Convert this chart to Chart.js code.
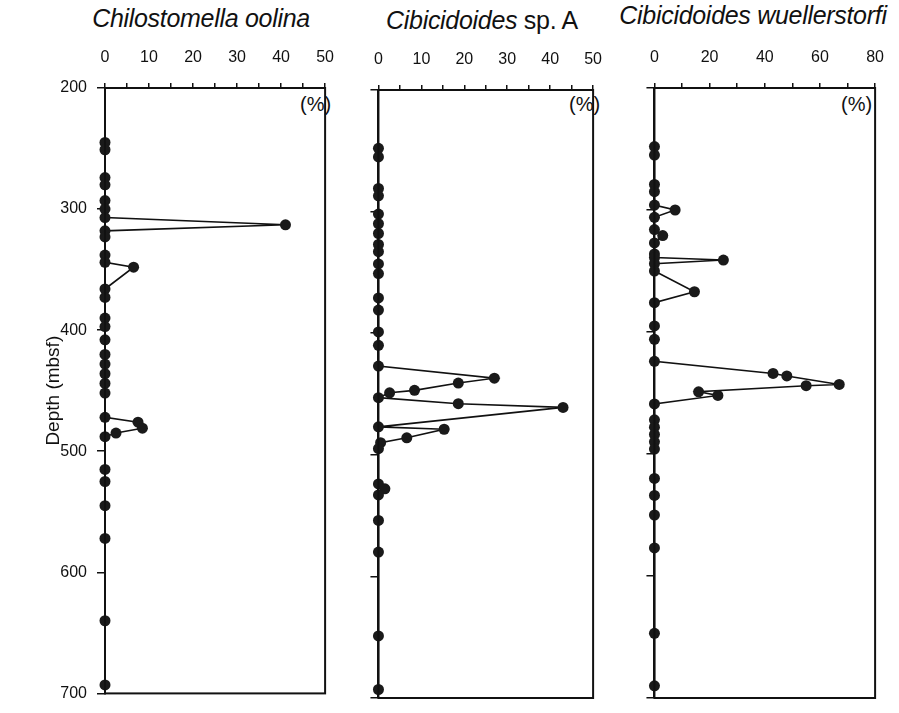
<!DOCTYPE html>
<html><head><meta charset="utf-8">
<script src="https://cdn.jsdelivr.net/npm/chart.js@4"></script>
<style>
body{margin:0;background:#fff;width:899px;height:713px;position:relative;overflow:hidden;font-family:"Liberation Sans",Arial,sans-serif;color:#111;}
canvas{position:absolute;top:0;}
.t{position:absolute;font-size:25px;white-space:nowrap;transform:translateX(-50%);letter-spacing:-0.3px;}
.p{position:absolute;font-size:20px;white-space:nowrap;}
</style></head><body>
<div class="t" style="left:201px;top:4px"><i>Chilostomella oolina</i></div>
<div class="t" style="left:482px;top:6px"><i>Cibicidoides</i> sp. A</div>
<div class="t" style="left:753px;top:1px"><i>Cibicidoides wuellerstorfi</i></div>
<div class="p" style="left:300px;top:93px">(%)</div>
<div class="p" style="left:569px;top:93px">(%)</div>
<div class="p" style="left:841px;top:93px">(%)</div>
<canvas id="c1" width="330" height="713" style="left:20px"></canvas>
<canvas id="c2" width="260" height="713" style="left:358px"></canvas>
<canvas id="c3" width="266" height="713" style="left:634px"></canvas>
<script>
// Depth ticks (mbsf)
const depthTicks = [200, 300, 400, 500, 600, 700];

// Chilostomella oolina
const depth1 = [245,251,274,280,293,300,307,313,318,323,338,344,348,366,373,390,397,408,420,428,436,444,452,472,476,481,485,488,515,525,545,572,640,693];
const pct1   = [0,  0,  0,  0,  0,  0,  0,  41, 0,  0,  0,  0,  6.5,0,  0,  0,  0,  0,  0,  0,  0,  0,  0,  0,  7.5,8.5,2.5,0,  0,  0,  0,  0,  0,  0];

// Cibicidoides sp. A
const depth2 = [248,255,281,287,302,310,318,327,333,343,351,371,381,399,410,427,437,441,447,449,453,458,461,477,479,486,490,495,524,528,533,554,580,649,693];
const pct2   = [0,  0,  0,  0,  0,  0,  0,  0,  0,  0,  0,  0,  0,  0,  0,  0,  27, 18.6,8.4,2.6,0,  18.6,43, 0,  15.3,6.6,0.5,0,  0,  1.5,0,  0,  0,  0,  0];

// Cibicidoides wuellerstorfi
const depth3 = [248,255,279,285,296,300,306,316,321,327,336,339,341,344,350,367,376,395,406,424,434,436,443,444,449,452,459,472,478,484,490,496,520,534,550,577,647,690];
const pct3   = [0,  0,  0,  0,  0,  7.5,0,  0,  3,  0,  0,  0,  25, 0,  0,  14.5,0, 0,  0,  0,  43, 48, 67, 55, 16, 23, 0,  0,  0,  0,  0,  0,  0,  0,  0,  0,  0,  0];

const xMax = [50, 50, 80];
const xStep = [5, 5, 10];
const xLabelEvery = [10, 10, 20];

const INK = '#111';
const FONT = '"Liberation Sans", Arial, sans-serif';
const framePlugin = {
  id: 'frame',
  afterDraw(chart) {
    const a = chart.chartArea, ctx = chart.ctx;
    ctx.save();
    ctx.strokeStyle = INK;
    ctx.lineWidth = 2;
    ctx.strokeRect(a.left, a.top, a.right - a.left, a.bottom - a.top);
    ctx.restore();
  }
};

function makePanel(id, depth, pct, idx, opt) {
  const pts = depth.map((d, i) => ({x: pct[i], y: d}));
  return new Chart(document.getElementById(id), {
    type: 'scatter',
    data: {datasets: [{
      data: pts,
      showLine: true,
      tension: 0,
      borderColor: INK,
      borderWidth: 1.6,
      pointRadius: 5.5,
      pointBackgroundColor: '#1a1a1a',
      pointBorderWidth: 0,
      clip: false
    }]},
    plugins: [framePlugin],
    options: {
      responsive: false,
      animation: false,
      devicePixelRatio: 1,
      layout: {padding: {left: 0, right: opt.padRight, top: 0, bottom: opt.padBottom}},
      plugins: {legend: {display: false}, tooltip: {enabled: false}},
      scales: {
        x: {
          type: 'linear', position: 'top',
          min: 0, max: xMax[idx],
          afterFit: s => { s.height = opt.top; },
          ticks: {
            stepSize: xStep[idx], autoSkip: false, maxRotation: 0,
            color: INK, padding: 16,
            font: {family: FONT, size: 16},
            callback: v => (v % xLabelEvery[idx] === 0 ? String(v) : '')
          },
          grid: {drawOnChartArea: false, drawTicks: true, tickLength: 5, color: INK, lineWidth: 1.5},
          border: {color: INK, width: 2}
        },
        y: {
          type: 'linear', position: 'left', reverse: true,
          min: depthTicks[0], max: depthTicks[depthTicks.length - 1],
          afterFit: s => { s.width = opt.yWidth; },
          afterBuildTicks: s => { s.ticks = depthTicks.map(v => ({value: v})); },
          ticks: {
            display: opt.showY, color: INK, padding: 10,
            font: {family: FONT, size: 16}
          },
          title: {
            display: opt.showY, text: 'Depth (mbsf)', color: INK,
            font: {family: FONT, size: 19},
            padding: {top: 22, bottom: 0}
          },
          grid: {drawOnChartArea: false, drawTicks: true, tickLength: 8, color: INK, lineWidth: 1.5},
          border: {color: INK, width: 2}
        }
      }
    }
  });
}

makePanel('c1', depth1, pct1, 0, {showY: true, yWidth: 85, top: 88, padRight: 12, padBottom: 11});
makePanel('c2', depth2, pct2, 1, {showY: false, yWidth: 20, top: 90, padRight: 12, padBottom: 15});
makePanel('c3', depth3, pct3, 2, {showY: false, yWidth: 20, top: 88, padRight: 18, padBottom: 15});
</script>
</body></html>
